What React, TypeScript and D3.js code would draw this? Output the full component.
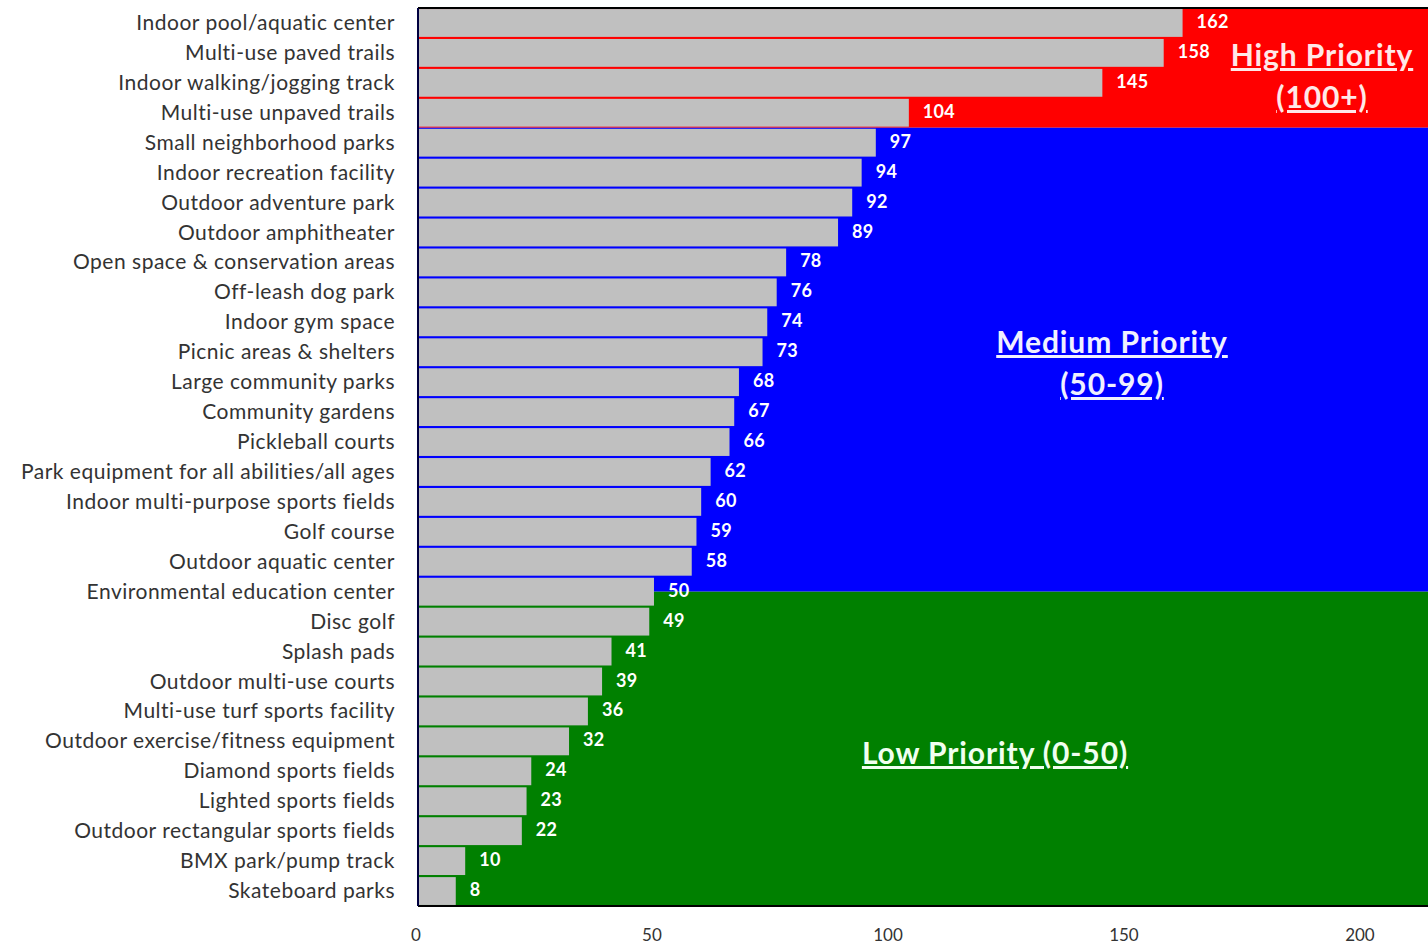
import React from "react";
import * as d3 from "d3";

const categories = [
  "Indoor pool/aquatic center",
  "Multi-use paved trails",
  "Indoor walking/jogging track",
  "Multi-use unpaved trails",
  "Small neighborhood parks",
  "Indoor recreation facility",
  "Outdoor adventure park",
  "Outdoor amphitheater",
  "Open space & conservation areas",
  "Off-leash dog park",
  "Indoor gym space",
  "Picnic areas & shelters",
  "Large community parks",
  "Community gardens",
  "Pickleball courts",
  "Park equipment for all abilities/all ages",
  "Indoor multi-purpose sports fields",
  "Golf course",
  "Outdoor aquatic center",
  "Environmental education center",
  "Disc golf",
  "Splash pads",
  "Outdoor multi-use courts",
  "Multi-use turf sports facility",
  "Outdoor exercise/fitness equipment",
  "Diamond sports fields",
  "Lighted sports fields",
  "Outdoor rectangular sports fields",
  "BMX park/pump track",
  "Skateboard parks",
];
const values = [162, 158, 145, 104, 97, 94, 92, 89, 78, 76, 74, 73, 68, 67, 66, 62, 60, 59, 58, 50, 49, 41, 39, 36, 32, 24, 23, 22, 10, 8];
const xTicks = [0, 50, 100, 150, 200];

const bands = [
  { from: 0, to: 4, color: "#ff0000" },
  { from: 4, to: 19.5, color: "#0000ff" },
  { from: 19.5, to: 30, color: "#008000" },
];

const W = 1428;
const H = 944;
const left = 418;
const top = 8;
const bottom = 906;

export default function App() {
  const x = d3.scaleLinear().domain([0, 214]).range([left, W]);
  const y = d3.scaleBand<string>().domain(categories).range([top, bottom]).paddingInner(0.07).paddingOuter(0.035);
  const step = (bottom - top) / categories.length;
  const rowY = (r: number) => top + r * step;
  const font = "Lato, 'Open Sans', sans-serif";

  const Title = ({ lines, cx, y0, lh, color }: { lines: string[]; cx: number; y0: number; lh: number; color: string }) => (
    <g>
      {lines.map((t, i) => (
        <text
          key={i}
          x={cx}
          y={y0 + i * lh}
          textAnchor="middle"
          fontFamily={font}
          fontWeight={700}
          fontSize={30}
          letterSpacing={0.9}
          fill={color}
          style={{ textDecoration: "underline" }}
        >
          {t}
        </text>
      ))}
    </g>
  );

  return (
    <svg width={W} height={H} style={{ position: "absolute", left: 0, top: 0, background: "#fff" }}>
      {bands.map((b, i) => (
        <rect key={i} x={left} y={rowY(b.from)} width={W - left} height={rowY(b.to) - rowY(b.from)} fill={b.color} />
      ))}
      {categories.map((c, i) => (
        <g key={c}>
          <rect x={x(0)} y={y(c)} width={x(values[i]) - x(0)} height={y.bandwidth()} fill="#c0c0c0" />
          <text
            x={x(values[i]) + 14}
            y={(y(c) as number) + y.bandwidth() / 2 + 5}
            fontFamily={font}
            fontWeight={700}
            fontSize={18}
            letterSpacing={0.3}
            fill="#ffffff"
          >
            {values[i]}
          </text>
          <text
            x={395}
            y={(y(c) as number) + y.bandwidth() / 2 + 7}
            textAnchor="end"
            fontFamily={font}
            fontSize={21}
            letterSpacing={0.5}
            fill="#333"
          >
            {c}
          </text>
        </g>
      ))}
      <line x1={left} x2={W} y1={top} y2={top} stroke="#000" strokeWidth={2} />
      <line x1={left} x2={W} y1={bottom} y2={bottom} stroke="#000" strokeWidth={2} />
      <line x1={left} x2={left} y1={top} y2={bottom} stroke="#000040" strokeWidth={2} />
      {xTicks.map((t) => (
        <text key={t} x={x(t) - 2} y={941} textAnchor="middle" fontFamily={font} fontSize={17} fill="#333">
          {t}
        </text>
      ))}
      <Title lines={["High Priority", "(100+)"]} cx={1322} y0={66} lh={42} color="#ffe8e8" />
      <Title lines={["Medium Priority", "(50-99)"]} cx={1112} y0={353} lh={42} color="#f0f0ff" />
      <Title lines={["Low Priority (0-50)"]} cx={995} y0={764} lh={42} color="#f0fff0" />
    </svg>
  );
}
